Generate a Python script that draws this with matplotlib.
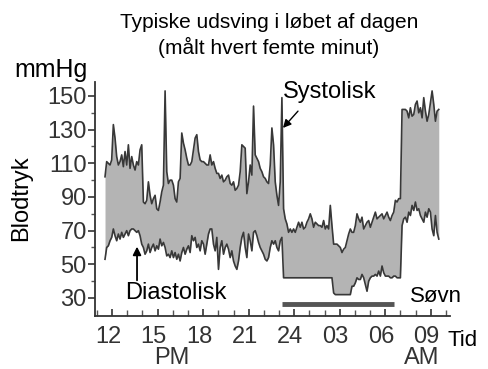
import numpy as np
import matplotlib.pyplot as plt
from matplotlib.transforms import ScaledTranslation

plt.rcParams['font.family'] = ['Liberation Sans', 'DejaVu Sans']

# blodtryk, maalt med fast interval fra kl. ca. 11:30 til 09:30 naeste dag
t_start = 11.53          # timer
dt = 0.11                # timer mellem maalinger

systolic = [
    102, 111, 110, 109, 112, 133, 125, 114, 109, 111, 115, 108, 117, 109, 121, 107,
    114, 109, 106, 111, 109, 118, 121, 87, 86, 88, 99, 91, 86, 89, 91, 83,
    82, 87, 93, 97, 153, 105, 98, 100, 100, 97, 89, 87, 99, 101, 128, 122,
    118, 113, 109, 109, 111, 118, 125, 127, 117, 112, 111, 111, 110, 109, 109, 115,
    109, 111, 107, 104, 104, 101, 103, 99, 100, 102, 103, 98, 97, 99, 94, 95,
    97, 105, 121, 120, 119, 92, 99, 109, 103, 144, 115, 113, 111, 107, 105, 102,
    101, 99, 98, 109, 131, 121, 99, 91, 85, 99, 149, 83, 77, 74, 69, 71,
    69, 71, 69, 72, 75, 72, 75, 71, 72, 75, 77, 80, 77, 72, 75, 74,
    73, 73, 72, 76, 71, 73, 71, 85, 73, 62, 62, 62, 61, 60, 57, 59,
    60, 64, 68, 71, 69, 69, 73, 80, 77, 75, 78, 71, 73, 75, 76, 72,
    75, 78, 81, 77, 78, 79, 80, 77, 79, 81, 78, 76, 79, 81, 88, 87,
    89, 89, 142, 142, 142, 141, 137, 143, 138, 139, 145, 147, 140, 143, 137, 149,
    141, 135, 139, 146, 153, 145, 135, 141, 142,
]

diastolic = [
    53, 60, 61, 64, 66, 71, 67, 64, 68, 65, 69, 66, 68, 70, 67, 70,
    71, 71, 70, 69, 70, 67, 62, 60, 56, 58, 62, 57, 60, 62, 58, 61,
    59, 65, 61, 63, 60, 55, 56, 54, 58, 54, 57, 53, 56, 52, 57, 60,
    56, 59, 61, 57, 67, 64, 66, 60, 62, 58, 64, 62, 56, 62, 68, 71,
    71, 62, 58, 66, 47, 60, 64, 56, 60, 62, 59, 54, 58, 52, 49, 47,
    52, 60, 66, 69, 60, 54, 68, 64, 58, 69, 70, 67, 63, 60, 58, 56,
    53, 52, 54, 60, 64, 62, 64, 60, 58, 64, 66, 42, 42, 42, 42, 42,
    42, 42, 42, 42, 42, 42, 42, 42, 42, 42, 42, 42, 42, 42, 42, 42,
    42, 42, 42, 42, 42, 42, 42, 42, 42, 33, 32, 32, 32, 32, 32, 32,
    32, 32, 32, 32, 37, 37, 39, 42, 41, 41, 44, 42, 38, 34, 40, 42,
    43, 43, 44, 43, 46, 43, 49, 45, 43, 43, 43, 42, 42, 43, 43, 42,
    42, 42, 73, 77, 78, 75, 81, 79, 85, 82, 87, 82, 83, 79, 77, 75,
    81, 78, 83, 81, 71, 67, 79, 69, 65,
]

sleep_start, sleep_end, sleep_level = 23.2, 30.55, 26.5

hour_ticks = [12, 15, 18, 21, 24, 27, 30, 33]
hour_labels = ['12', '15', '18', '21', '24', '03', '06', '09']
y_ticks = [30, 50, 70, 90, 110, 130, 150]

W, H = 489, 369
fig = plt.figure(figsize=(W / 100, H / 100), dpi=100)
ax = fig.add_axes([95 / W, 1 - 316 / H, 355 / W, 234 / H])

t = t_start + dt * np.arange(len(systolic))
ax.fill_between(t, diastolic, systolic, color='#b4b4b4', lw=0)
ax.plot(t, systolic, color='#383838', lw=1.2)
ax.plot(t, diastolic, color='#383838', lw=1.2)

# soevnperiode
ax.hlines(sleep_level, sleep_start, sleep_end, color='#555555', lw=3.5)

ax.set_xlim(10.87, 34.27)
ax.set_ylim(19.3, 158.3)

for s in ['top', 'right']:
    ax.spines[s].set_visible(False)
for s in ['left', 'bottom']:
    ax.spines[s].set_color('#333333')
    ax.spines[s].set_linewidth(1.3)

ax.set_yticks(y_ticks)
ax.set_yticks(np.arange(40, 150, 20), minor=True)
ax.tick_params(axis='y', which='major', direction='out', length=5, width=1.2,
               pad=1, labelsize=17, colors='#333333')
ax.tick_params(axis='y', which='minor', direction='out', length=3, width=1.0,
               colors='#555555')

ax.set_xticks(hour_ticks)
ax.set_xticklabels(hour_labels)
ax.set_xticks(np.arange(11, 35), minor=True)
ax.tick_params(axis='x', which='major', direction='in', length=5, width=1.2,
               pad=7, labelsize=17, colors='#333333')
ax.tick_params(axis='x', which='minor', direction='in', length=4, width=1.0,
               colors='#555555')
for lab in ax.get_xticklabels():
    lab.set_transform(lab.get_transform() + ScaledTranslation(-4 / 100, 0, fig.dpi_scale_trans))

# pile og tekster
ax.annotate('', xy=(23.26, 131), xytext=(24.25, 141),
            arrowprops=dict(arrowstyle='-|>', color='black', lw=1.0,
                            mutation_scale=12, shrinkA=0, shrinkB=0))
ax.annotate('', xy=(13.64, 60.5), xytext=(13.64, 40.5),
            arrowprops=dict(arrowstyle='-|>', color='black', lw=1.3,
                            mutation_scale=12, shrinkA=0, shrinkB=0))
ax.text(23.25, 152.5, 'Systolisk', fontsize=17, va='center', ha='left')
ax.text(12.85, 33, 'Diastolisk', fontsize=17, va='center', ha='left')
ax.text(31.6, 30.6, 'Søvn', fontsize=16, va='center', ha='left')

fig.text(269 / W, 1 - 22 / H, 'Typiske udsving i løbet af dagen',
         fontsize=15, ha='center', va='center')
fig.text(269 / W, 1 - 47 / H, '(målt hvert femte minut)',
         fontsize=15, ha='center', va='center')
fig.text(14 / W, 1 - 70 / H, 'mmHg', fontsize=18, ha='left', va='center')
fig.text(21 / W, 1 - 198 / H, 'Blodtryk', fontsize=17, ha='center', va='center',
         rotation=90)
fig.text(447 / W, 1 - 340 / H, 'Tid', fontsize=16, ha='left', va='center')
fig.text(172 / W, 1 - 358 / H, 'PM', fontsize=17, ha='center', va='center', color='#333333')
fig.text(422 / W, 1 - 358 / H, 'AM', fontsize=17, ha='center', va='center', color='#333333')

fig.savefig('out.png', dpi=100)
